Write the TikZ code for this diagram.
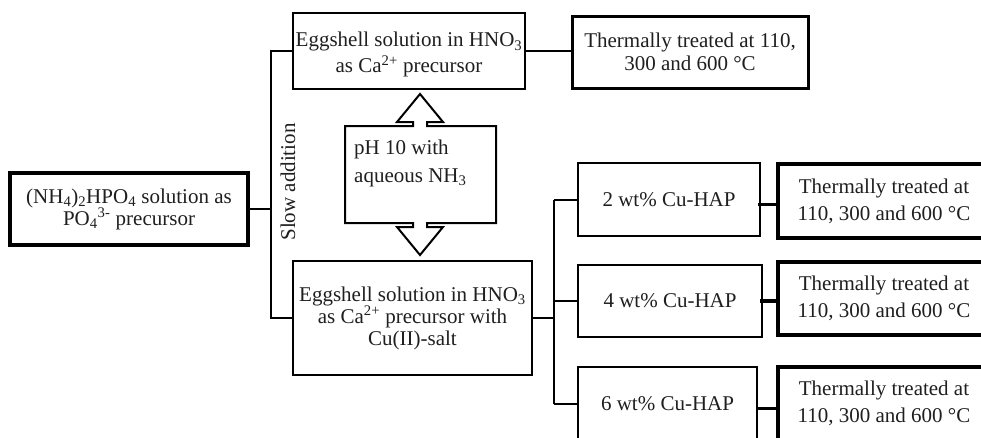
\documentclass[tikz,border=0pt]{standalone}
\usepackage{fontspec}
\setmainfont{Liberation Serif}
\tikzset{
  x=1pt, y=-1pt,
  txt/.style={text=black!88, inner sep=0pt, align=center},
  box/.style={draw, rectangle, inner sep=0pt, align=center, text=black!88, line width=2pt},
  f22/.style={font=\fontsize{21}{22}\selectfont},
  f27/.style={font=\fontsize{21}{27}\selectfont},
  f28/.style={font=\fontsize{21}{28}\selectfont},
  f23/.style={font=\fontsize{21}{23}\selectfont},
  conn/.style={line width=2pt},
  tconn/.style={line width=3.2pt},
}
\begin{document}
\begin{tikzpicture}
\useasboundingbox (0,0) rectangle (981,437);
\clip (0,0) rectangle (981,437);
\fill[white] (0,0) rectangle (981,437);

% left box
\node[box, f22, line width=4pt, minimum width=238pt, minimum height=72pt] (L) at (129,209)
  {(NH\textsubscript{4})\textsubscript{2}HPO\textsubscript{4} solution as\\PO\textsubscript{4}\textsuperscript{3-} precursor};

% top eggshell box
\node[box, f22, minimum width=232pt, minimum height=76pt, text depth=0pt] (T) at (409,51)
  {\raisebox{-3pt}{\shortstack{Eggshell solution in HNO\textsubscript{3}\\[1pt]as Ca\textsuperscript{2+} precursor}}};

% top thermal box
\node[box, f23, line width=3pt, minimum width=236pt, minimum height=72pt] (TT) at (690,52)
  {Thermally treated at 110,\\300 and 600 °C};

% pH double-arrow callout
\draw[line width=2pt, fill=white] (420,94) -- (443,122) -- (427,122) -- (427,126) -- (496,126)
  -- (496,223) -- (427,223) -- (427,227) -- (443,227) -- (420,255) -- (397,227) -- (413,227)
  -- (413,223) -- (345,223) -- (345,126) -- (413,126) -- (413,122) -- (397,122) -- cycle;
\node[txt, f28, align=left, anchor=north west] (ph) at (354,140) {pH 10 with\\aqueous NH\textsubscript{3}};

% bottom eggshell box
\node[box, f22, line width=2.5pt, minimum width=239pt, minimum height=114pt] (B) at (412.5,318)
  {Eggshell solution in HNO\textsubscript{3}\\as Ca\textsuperscript{2+} precursor with\\Cu(II)-salt};

% slow addition
\node[txt, f22, rotate=90] (slow) at (288,182) {Slow addition};

% Cu-HAP boxes
\node[box, f22, minimum width=182pt, minimum height=73pt] (C2) at (669,199.5) {2 wt\% Cu-HAP};
\node[box, f22, minimum width=184pt, minimum height=72pt] (C4) at (670,301) {4 wt\% Cu-HAP};
\node[box, f22, minimum width=179pt, minimum height=73pt] (C6) at (667.5,403.5) {6 wt\% Cu-HAP};

% thermal boxes
\node[box, f27, line width=4pt, minimum width=212pt, minimum height=74pt] (H2) at (884,201)
  {Thermally treated at\\110, 300 and 600 °C};
\node[box, f27, line width=4pt, minimum width=212pt, minimum height=73pt] (H3) at (884,298.5)
  {Thermally treated at\\110, 300 and 600 °C};
\node[box, f27, line width=4pt, minimum width=212pt, minimum height=73pt] (H4) at (884,403.5)
  {Thermally treated at\\110, 300 and 600 °C};

% connectors
\coordinate (v1) at (271,52);
\coordinate (v2) at (271,318);
\draw[conn] (T.west) -- (T.west -| v1) -- (B.west -| v2) -- (B.west);
\draw[conn] (L.east) -- (L.east -| v1);
\draw[conn] (T.east) -- (T.east -| TT.west);

\coordinate (w) at (554,318);
\draw[conn] (B.east) -- (w);
\draw[conn] (C2.west -| w) -- (C6.west -| w);
\draw[conn] (C2.west -| w) -- (C2.west);
\draw[conn] (C4.west -| w) -- (C4.west);
\draw[conn] (C6.west -| w) -- (C6.west);

\draw[tconn] ([yshift=-5pt,xshift=-3pt]C2.east) -- ([yshift=-5pt]C2.east -| H2.west);
\draw[tconn] ([xshift=-3pt]C4.east) -- (C4.east -| H3.west);
\draw[tconn] ([yshift=-5pt]C6.east) -- ([yshift=-5pt]C6.east -| H4.west);
\end{tikzpicture}
\end{document}
